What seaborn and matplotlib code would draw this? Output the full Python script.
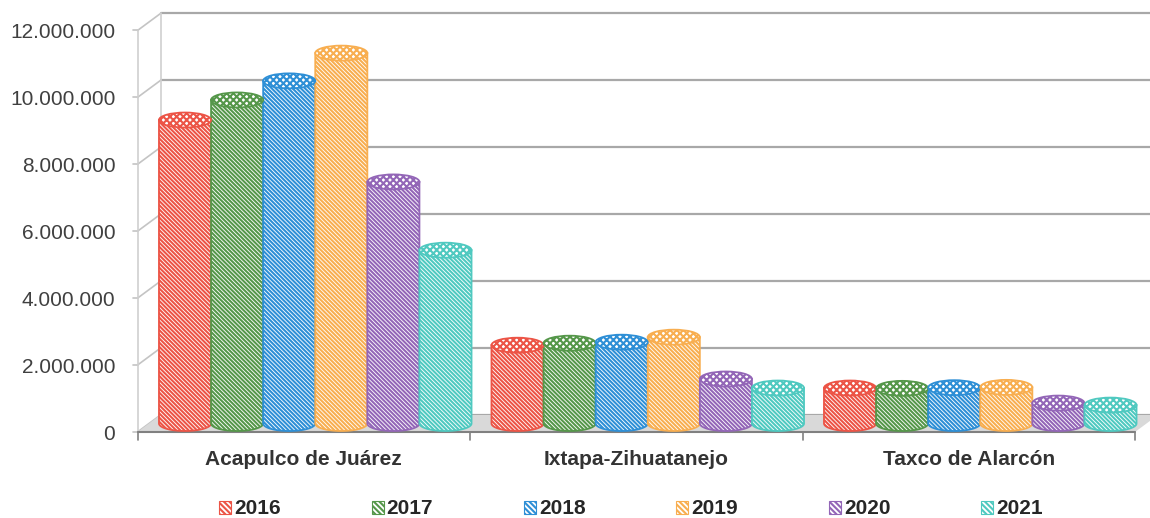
import numpy as np
import pandas as pd
import seaborn as sns
import matplotlib.pyplot as plt
from matplotlib.patches import Ellipse, PathPatch, Patch, Polygon
from matplotlib.path import Path
from matplotlib.lines import Line2D
from matplotlib.transforms import ScaledTranslation, IdentityTransform
from matplotlib.ticker import FuncFormatter

# datos (visitantes por municipio y año)
municipios = ['Acapulco de Juárez', 'Ixtapa-Zihuatanejo', 'Taxco de Alarcón']
anios = ['2016', '2017', '2018', '2019', '2020', '2021']
acapulco = [9070000, 9670000, 10240000, 11070000, 7220000, 5180000]
ixtapa = [2340000, 2400000, 2430000, 2580000, 1330000, 1060000]
taxco = [1060000, 1050000, 1070000, 1080000, 610000, 550000]
colores = ['#EC5446', '#55974A', '#2E8FD6', '#F8AE50', '#9366B7', '#4FC9C0']

df = pd.DataFrame({
    'municipio': np.repeat(municipios, len(anios)),
    'anio': anios * len(municipios),
    'turistas': acapulco + ixtapa + taxco,
})

sns.set_style('white')
plt.rcParams['font.family'] = ['Liberation Sans', 'DejaVu Sans']
plt.rcParams['hatch.linewidth'] = 1.5

fig = plt.figure(figsize=(11.5, 5.18), dpi=100)
ax = fig.add_axes([149 / 1150, (518 - 423.5) / 518, 997.5 / 1150, 401.5 / 518])

sns.barplot(data=df, x='municipio', y='turistas', hue='anio', palette=colores,
            width=0.94, saturation=1, legend=False, ax=ax)
barras = list(ax.patches)
ax.set_xlim(-0.5, 2.5)
ax.set_ylim(0, 12e6)
for s in ax.spines.values():
    s.set_visible(False)

# profundidad falsa (efecto 3d): plano frontal y pared de fondo
off_f = ScaledTranslation(-11.5 / 100, -8.5 / 100, fig.dpi_scale_trans)
off_b = ScaledTranslation(11.5 / 100, 8.5 / 100, fig.dpi_scale_trans)
tf = ax.transData + off_f
tb = ax.transData + off_b


def linea(p1, p2, **kw):
    ax.add_line(Line2D([p1[0], p2[0]], [p1[1], p2[1]], transform=IdentityTransform(),
                       clip_on=False, **kw))


yticks = np.arange(0, 12e6 + 1, 2e6)
for v in yticks:
    pb0, pb1 = tb.transform((-0.5, v)), tb.transform((2.5, v))
    pf = tf.transform((-0.5, v))
    linea(pb0, pb1, color='#a8a8a8', lw=1.6, zorder=0.5)
    linea(pf, pb0, color='#c4c4c4', lw=1.2, zorder=0.5)
    linea(pf - np.array([5, 0]), pf, color='#c4c4c4', lw=1.2, zorder=0.5)
linea(tf.transform((-0.5, 0)), tf.transform((-0.5, 12e6)), color='#cfcfcf', lw=1.2, zorder=0.5)
linea(tb.transform((-0.5, 0)), tb.transform((-0.5, 12e6)), color='#cfcfcf', lw=1.2, zorder=0.5)

# piso
piso = [tf.transform((-0.5, 0)), tf.transform((2.5, 0)), tb.transform((2.5, 0)), tb.transform((-0.5, 0))]
ax.add_patch(Polygon(piso, closed=True, transform=IdentityTransform(), facecolor='#d9d9d9',
                     edgecolor='none', clip_on=False, zorder=0.8))
linea(tf.transform((-0.5, 0)), tf.transform((2.5, 0)), color='#808080', lw=1.5, zorder=1)
for k in range(4):
    p = tf.transform((k - 0.5, 0))
    linea(p, p - np.array([0, 8]), color='#808080', lw=1.2, zorder=1)

# cilindros a partir de las barras de seaborn
pix = ax.transData.transform([(0, 0), (0, 1e6)])
ry = 7.5 / (pix[1, 1] - pix[0, 1]) * 1e6
for rect in barras:
    x0, w, h = rect.get_x(), rect.get_width(), rect.get_height()
    c = rect.get_facecolor()
    cx = x0 + w / 2
    t = np.linspace(np.pi, 2 * np.pi, 40)
    verts = [(x0, h), (x0, 0)] + list(zip(cx + w / 2 * np.cos(t), ry * np.sin(t))) + [(x0 + w, h), (x0, h)]
    codes = [Path.MOVETO] + [Path.LINETO] * (len(verts) - 2) + [Path.CLOSEPOLY]
    ax.add_patch(PathPatch(Path(verts, codes), facecolor='white', edgecolor=c, lw=1.3,
                           hatch='\\' * 8, clip_on=False, zorder=3))
    ax.add_patch(Ellipse((cx, h), w, 2 * ry, facecolor='white', edgecolor=c, lw=1.3,
                         hatch='x' * 5, clip_on=False, zorder=3.1))
    rect.set_visible(False)

ax.set_xlim(-0.5, 2.5)
ax.set_ylim(0, 12e6)
ax.set_xlabel('')
ax.set_ylabel('')
ax.set_yticks(yticks)
ax.yaxis.set_major_formatter(FuncFormatter(lambda v, p: f'{int(v):,}'.replace(',', '.')))
ax.tick_params(axis='y', length=0, pad=16, labelsize=15, labelcolor='#404040')
ax.tick_params(axis='x', length=0, pad=13, labelsize=15, labelcolor='#333333')
for lbl in ax.get_yticklabels():
    lbl.set_transform(lbl.get_transform() + off_f)
for lbl in ax.get_xticklabels():
    lbl.set_fontweight('bold')
    lbl.set_transform(lbl.get_transform() + off_f)

handles = [Patch(facecolor='white', edgecolor=c, hatch='\\' * 6, lw=0.8) for c in colores]
fig.legend(handles, anios, loc='center', bbox_to_anchor=(631 / 1150, 9 / 518), ncol=6,
           frameon=False, handlelength=0.58, handleheight=0.58, handletextpad=0.15,
           columnspacing=4.35, prop={'weight': 'bold', 'size': 15}, labelcolor='#262626')

fig.savefig('out.png', dpi=100)
